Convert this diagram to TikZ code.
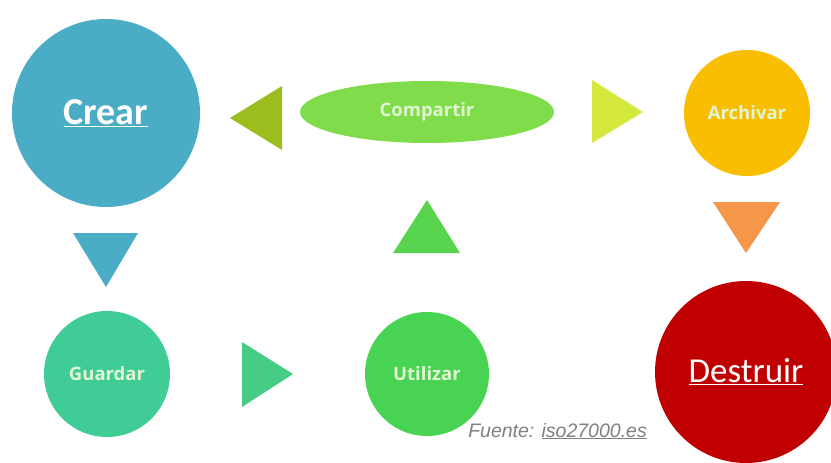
\documentclass[tikz,border=0pt]{standalone}
\usepackage{fontspec}
\setmainfont{Carlito}
\newfontfamily\labfont{Open Sans}
\newfontfamily\srcfont{Liberation Sans}
\usetikzlibrary{shapes.geometric}
\definecolor{cblue}{RGB}{75,172,198}
\definecolor{colive}{RGB}{155,189,30}
\definecolor{clgreen}{RGB}{128,220,75}
\definecolor{cyell}{RGB}{212,232,62}
\definecolor{camber}{RGB}{250,190,0}
\definecolor{corange}{RGB}{245,150,72}
\definecolor{cteal}{RGB}{64,204,150}
\definecolor{cteal2}{RGB}{70,204,132}
\definecolor{cgreen}{RGB}{72,212,82}
\definecolor{cgreen2}{RGB}{88,212,78}
\definecolor{cred}{RGB}{192,0,0}
\definecolor{paletxt}{RGB}{225,245,210}
\begin{document}
\begin{tikzpicture}[x=1pt,y=-1pt,
  stage/.style={circle,inner sep=0pt,draw=none},
  bigtxt/.style={text=white,font=\fontsize{35}{40}\selectfont},
  smalltxt/.style={text=paletxt,font=\labfont\bfseries\fontsize{18.5}{20}\selectfont}]
\useasboundingbox[fill=white] (0,0) rectangle (831,463);
% stages
\node[stage,fill=cblue,minimum size=188pt,bigtxt,font=\fontsize{38}{42}\selectfont] (crear) at (106,113) {\bfseries\underline{Crear}};
\node[ellipse,inner sep=0pt,fill=clgreen,minimum width=254pt,minimum height=62pt,smalltxt] (compartir) at (427,112) {Compartir};
\node[stage,fill=camber,minimum size=126pt,smalltxt] (archivar) at (747,113) {Archivar};
\node[stage,fill=cteal,minimum size=126pt,smalltxt] (guardar) at (107,374) {Guardar};
\node[stage,fill=cgreen,minimum size=124pt,smalltxt] (utilizar) at (427,374) {Utilizar};
\begin{scope}
\clip (0,0) rectangle (831,463);
\node[stage,fill=cred,minimum size=182pt,bigtxt] (destruir) at (746,372) {\underline{Destruir}};
\end{scope}
% arrow triangles
\fill[colive] (230,118) -- (282,86) -- (282,150) -- cycle;
\fill[cyell] (643,112) -- (592,80) -- (592,143) -- cycle;
\fill[corange] (746,253) -- (713,202) -- (780,202) -- cycle;
\fill[cblue] (106,287) -- (73,233) -- (138,233) -- cycle;
\fill[cteal2] (293,374) -- (242,342) -- (242,407) -- cycle;
\fill[cgreen2] (427,200) -- (393,253) -- (460,253) -- cycle;
% source
\node[anchor=base east,inner sep=0pt,text=gray,font=\srcfont\itshape\fontsize{19.5}{22}\selectfont] (fuente) at (647,437) {Fuente: \underline{iso27000.es}};
\end{tikzpicture}
\end{document}
